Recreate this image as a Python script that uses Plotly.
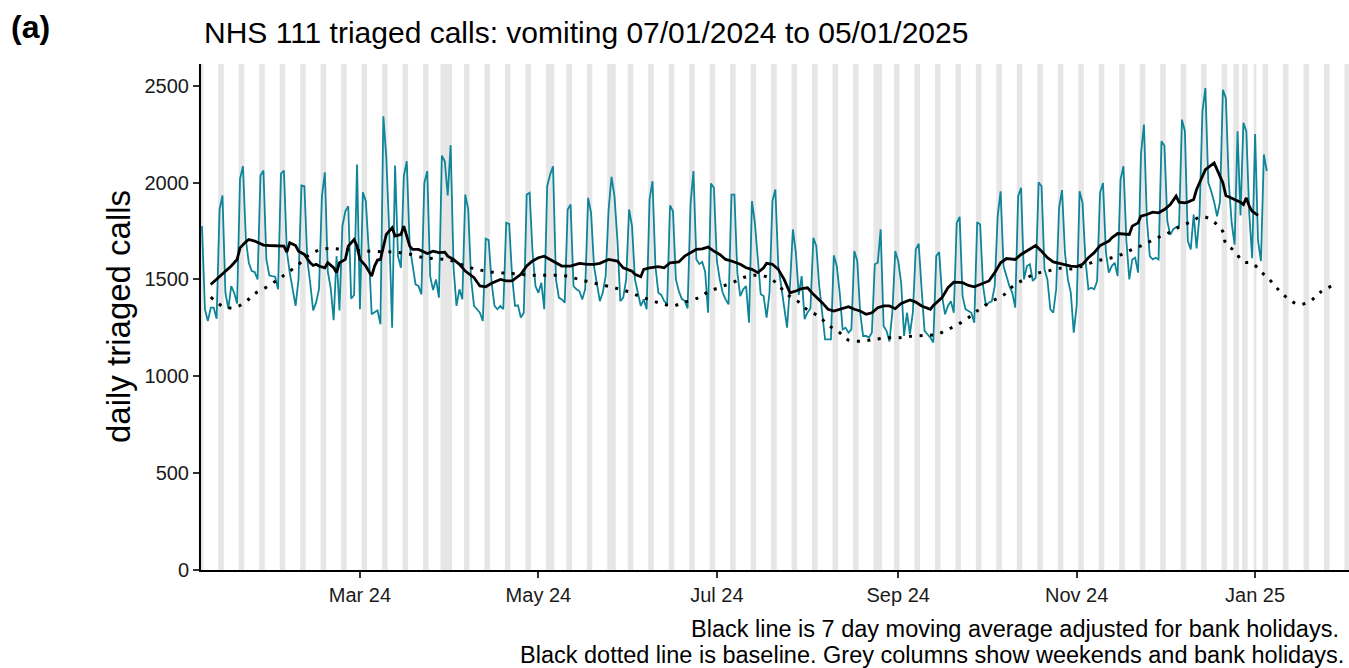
import pandas as pd
import plotly.graph_objects as go

# ---------------- data ----------------
start_date = "2024-01-07"

# daily triaged calls, 07/01/2024 (Sun) .. 05/01/2025 (Sun); rows = Mon..Sun weeks
calls = [
    1775,
    1346, 1285, 1354, 1354, 1297, 1861, 1933,
    1431, 1349, 1466, 1431, 1376, 2019, 2084,
    1706, 1586, 1543, 1538, 1500, 2036, 2062,
    1603, 1521, 1517, 1514, 1449, 2046, 2062,
    1646, 1535, 1449, 1363, 1500, 1985, 1981,
    1600, 1480, 1340, 1380, 1450, 1930, 2053,
    1540, 1457, 1290, 1620, 1340, 1775, 1852,
    1878, 1400, 1420, 2093, 1346, 1950, 1904,
    1650, 1320, 1330, 1340, 1268, 2342, 2130,
    1750, 1251, 2088, 1620, 1560, 2033, 2110,
    1672, 1560, 1474, 1466, 1423, 1998, 2059,
    1517, 1445, 1500, 1406, 2139, 2110, 1933,
    2193, 1560, 1363, 1449, 1397, 1938, 1861,
    1500, 1363, 1346, 1328, 1285, 1710, 1703,
    1483, 1363, 1346, 1363, 1346, 1792, 1787,
    1517, 1363, 1366, 1303, 1328, 1938, 1947,
    1638, 1466, 1431, 1483, 1346, 1981, 2041,
    2084, 1500, 1406, 1397, 1380, 1861, 1887,
    1466, 1449, 1440, 1397, 1450, 1921, 1844,
    1569, 1483, 1388, 1431, 1517, 1861, 2029,
    1930, 1706, 1388, 1406, 1500, 1861, 1775,
    1500, 1431, 1363, 1397, 1346, 1913, 2007,
    1569, 1431, 1420, 1388, 1371, 1882, 1852,
    1500, 1440, 1400, 1390, 1350, 1887, 2059,
    1603, 1580, 1590, 1540, 1328, 1995, 1973,
    1595, 1500, 1431, 1397, 1371, 1938, 1938,
    1535, 1414, 1449, 1466, 1277, 1904, 1792,
    1586, 1423, 1414, 1303, 1431, 1904, 1964,
    1569, 1466, 1363, 1251, 1466, 1758, 1640,
    1420, 1517, 1295, 1330, 1350, 1715, 1672,
    1466, 1328, 1191, 1191, 1191, 1624, 1569,
    1431, 1242, 1251, 1225, 1242, 1646, 1595,
    1328, 1208, 1208, 1200, 1225, 1578, 1586,
    1758, 1260, 1235, 1180, 1330, 1646, 1595,
    1483, 1208, 1328, 1217, 1328, 1655, 1684,
    1449, 1234, 1217, 1200, 1174, 1620, 1641,
    1414, 1320, 1363, 1388, 1328, 1792, 1823,
    1414, 1346, 1337, 1328, 1277, 1796, 1784,
    1466, 1363, 1380, 1388, 1466, 1827, 1955,
    1569, 1517, 1466, 1431, 1354, 1930, 1973,
    1500, 1569, 1578, 1492, 1509, 2002, 1981,
    1552, 1500, 1346, 1328, 1449, 1870, 1961,
    1638, 1500, 1431, 1225, 1363, 1955, 1895,
    1603, 1449, 1457, 1449, 1492, 1947, 1998,
    1638, 1535, 1569, 1586, 1517, 2015, 2084,
    1698, 1500, 1603, 1612, 1535, 2150, 2299,
    1809, 1620, 1603, 1612, 1603, 2213, 2190,
    1800, 1730, 1758, 1770, 1775, 2325, 2265,
    1698, 1655, 1835, 1660, 1830, 2368, 2488,
    2000, 1955, 1900, 1826, 1900, 2479, 2436,
    2000, 1790, 1680, 2265, 1830, 2308, 2265,
    1840, 1610, 2250, 1700, 1595, 2145, 2059,
]

# 7 day moving average (day offset from start, value)
ma_days = [3, 5, 8, 10, 12, 13, 15, 16, 18, 20, 21, 23, 25, 28, 29, 30, 32, 33, 35, 37,
           38, 39, 40, 42, 43, 45, 46, 47, 49, 50, 52, 53, 54, 56, 57, 58, 59, 60, 61, 63,
           65, 66, 68, 69, 71, 72, 74, 76, 77, 79, 81, 83, 84, 86, 88, 90, 93, 95, 97, 99,
           102, 104, 106, 109, 111, 113, 115, 117, 119, 121, 123, 126, 129, 132, 134, 136, 139, 142, 144, 147,
           148, 150, 151, 153, 156, 158, 160, 163, 165, 167, 169, 171, 173, 175, 177, 179, 181, 184, 186, 188,
           190, 192, 193, 195, 197, 199, 201, 203, 205, 207, 209, 212, 214, 216, 219, 221, 223, 225, 227, 229,
           231, 233, 235, 237, 239, 242, 244, 246, 249, 250, 253, 255, 257, 260, 262, 264, 266, 269, 271, 273,
           275, 278, 280, 282, 285, 287, 289, 291, 294, 297, 299, 301, 303, 305, 307, 310, 311, 313, 317, 318,
           320, 321, 323, 325, 327, 329, 331, 333, 334, 336, 337, 339, 340, 342, 343, 346, 347, 349, 350, 352,
           355, 356, 357, 358, 359, 361]
ma_vals = [1474, 1500, 1538, 1569, 1603, 1663, 1694, 1706, 1698, 1686, 1677, 1675, 1675, 1672, 1641, 1689, 1675, 1646, 1629, 1586,
           1572, 1578, 1569, 1560, 1586, 1560, 1535, 1586, 1603, 1672, 1706, 1672, 1603, 1569, 1543, 1517, 1569, 1600, 1603, 1732,
           1767, 1724, 1732, 1775, 1672, 1655, 1655, 1641, 1634, 1646, 1638, 1641, 1620, 1603, 1578, 1543, 1509, 1466, 1462, 1480,
           1500, 1492, 1492, 1526, 1569, 1595, 1612, 1620, 1603, 1586, 1569, 1569, 1583, 1578, 1578, 1583, 1603, 1595, 1560, 1543,
           1526, 1514, 1552, 1560, 1566, 1560, 1586, 1590, 1620, 1638, 1655, 1658, 1667, 1646, 1629, 1603, 1595, 1578, 1560, 1552,
           1535, 1560, 1583, 1578, 1552, 1500, 1431, 1440, 1452, 1457, 1423, 1380, 1346, 1337, 1349, 1359, 1346, 1337, 1320, 1328,
           1354, 1363, 1363, 1349, 1376, 1394, 1383, 1363, 1346, 1366, 1406, 1457, 1486, 1483, 1469, 1462, 1474, 1492, 1535, 1586,
           1608, 1603, 1629, 1646, 1675, 1646, 1612, 1590, 1578, 1569, 1566, 1578, 1612, 1638, 1675, 1698, 1715, 1737, 1732, 1775,
           1792, 1827, 1835, 1847, 1844, 1861, 1887, 1930, 1899, 1895, 1899, 1913, 1964, 2033, 2067, 2101, 2067, 1998, 1933, 1921,
           1899, 1887, 1921, 1878, 1852, 1830]

# baseline (day offset from start, value)
base_days = [3, 7, 11, 15, 18, 22, 26, 29, 33, 36, 40, 44, 48, 53, 57, 62, 66, 70, 75, 79,
             83, 86, 90, 94, 98, 103, 107, 112, 116, 120, 124, 128, 132, 137, 141, 145, 149, 153, 157, 161,
             165, 170, 173, 177, 182, 186, 190, 194, 197, 200, 204, 207, 211, 214, 218, 221, 226, 230, 234, 238,
             242, 247, 251, 255, 259, 263, 266, 270, 274, 277, 281, 285, 289, 293, 298, 302, 306, 310, 314, 318,
             322, 326, 330, 334, 338, 342, 346, 349, 350, 353, 356, 359, 362, 365, 368, 371, 375, 379, 382, 386]
base_vals = [1409, 1362, 1354, 1385, 1426, 1460, 1500, 1532, 1577, 1620, 1651, 1660, 1655, 1651, 1646, 1643, 1641, 1634, 1615, 1608,
             1603, 1594, 1569, 1552, 1540, 1533, 1529, 1522, 1521, 1521, 1519, 1504, 1488, 1471, 1457, 1440, 1416, 1395, 1376, 1364,
             1383, 1407, 1436, 1459, 1488, 1514, 1522, 1508, 1471, 1423, 1383, 1342, 1308, 1265, 1225, 1187, 1182, 1191, 1198, 1199,
             1206, 1211, 1216, 1242, 1273, 1314, 1349, 1388, 1419, 1462, 1500, 1529, 1543, 1557, 1555, 1575, 1596, 1608, 1627, 1655,
             1680, 1711, 1737, 1770, 1797, 1825, 1796, 1746, 1684, 1646, 1591, 1584, 1540, 1498, 1447, 1404, 1371, 1390, 1431, 1465]

bank_holidays = ["2024-03-29", "2024-04-01", "2024-05-06", "2024-05-27",
                 "2024-08-26", "2024-12-25", "2024-12-26", "2025-01-01"]

tick_dates = ["2024-03-01", "2024-05-01", "2024-07-01", "2024-09-01", "2024-11-01", "2025-01-01"]
tick_labels = ["Mar 24", "May 24", "Jul 24", "Sep 24", "Nov 24", "Jan 25"]
y_ticks = [0, 500, 1000, 1500, 2000, 2500]

title_text = "NHS 111 triaged calls: vomiting 07/01/2024 to 05/01/2025"
caption_1 = "Black line is 7 day moving average adjusted for bank holidays."
caption_2 = "Black dotted line is baseline. Grey columns show weekends and bank holidays."

# ---------------- build ----------------
t0 = pd.Timestamp(start_date)
dates = pd.date_range(t0, periods=len(calls), freq="D")
ma_dates = [t0 + pd.Timedelta(days=d) for d in ma_days]
base_dates = [t0 + pd.Timedelta(days=d) for d in base_days]

x_lo = t0 + pd.Timedelta(days=-0.34)
x_hi = t0 + pd.Timedelta(days=392.1)

# grey columns: weekends + bank holidays, merged into runs
bh = set(pd.to_datetime(bank_holidays))
all_days = pd.date_range(t0 - pd.Timedelta(days=2), x_hi + pd.Timedelta(days=2), freq="D")
grey = [d for d in all_days if d.weekday() >= 5 or d in bh]
runs = []
for d in grey:
    if runs and (d - runs[-1][1]).days == 1:
        runs[-1][1] = d
    else:
        runs.append([d, d])

half = pd.Timedelta(hours=0.45 * 24)
shapes = [dict(type="rect", xref="x", yref="paper", x0=a - half, x1=b + half, y0=0, y1=1,
               fillcolor="#E6E6E6", line=dict(width=0), layer="below") for a, b in runs]

FONT = "Liberation Sans, Arial, Helvetica, sans-serif"

fig = go.Figure()
fig.add_trace(go.Scatter(x=dates, y=calls, mode="lines",
                         line=dict(color="#0F8599", width=1.8), hoverinfo="skip"))
fig.add_trace(go.Scatter(x=base_dates, y=base_vals, mode="lines",
                         line=dict(color="black", width=3, dash="3px,7.5px", shape="spline"),
                         hoverinfo="skip"))
fig.add_trace(go.Scatter(x=ma_dates, y=ma_vals, mode="lines",
                         line=dict(color="black", width=2.8), hoverinfo="skip"))

W, H = 1349, 668
L, R, T, B = 201, 0, 64, 98
pw, ph = W - L - R, H - T - B


def px_x(px):
    return (px - L) / pw


def px_y(py):
    return (H - B - py) / ph


annotations = [
    dict(text="<b>(a)</b>", x=px_x(9), y=px_y(27), xref="paper", yref="paper",
         xanchor="left", yanchor="middle", showarrow=False, font=dict(size=32, color="black", family=FONT)),
    dict(text=title_text, x=px_x(202), y=px_y(33), xref="paper", yref="paper",
         xanchor="left", yanchor="middle", showarrow=False, font=dict(size=30, color="black", family=FONT)),
    dict(text="daily triaged calls", x=px_x(118), y=px_y(317), xref="paper", yref="paper",
         xanchor="center", yanchor="middle", textangle=-90, showarrow=False,
         font=dict(size=33, color="black", family=FONT)),
    dict(text=caption_1, x=px_x(1341), y=px_y(629), xref="paper", yref="paper",
         xanchor="right", yanchor="middle", showarrow=False, font=dict(size=23.5, color="black", family=FONT)),
    dict(text=caption_2, x=px_x(1346), y=px_y(655), xref="paper", yref="paper",
         xanchor="right", yanchor="middle", showarrow=False, font=dict(size=23.5, color="black", family=FONT)),
]

fig.update_layout(
    width=W, height=H, autosize=False,
    margin=dict(l=L, r=R, t=T, b=B, pad=0),
    paper_bgcolor="white", plot_bgcolor="white",
    showlegend=False, hovermode=False,
    shapes=shapes, annotations=annotations,
    font=dict(family=FONT, color="black"),
    xaxis=dict(type="date", range=[x_lo, x_hi], tickvals=pd.to_datetime(tick_dates), ticktext=tick_labels,
               showline=True, linecolor="black", linewidth=2, ticks="outside", ticklen=6, tickwidth=2,
               tickcolor="#333333", showgrid=False, zeroline=False,
               tickfont=dict(size=20, color="#1a1a1a", family=FONT)),
    yaxis=dict(range=[0, 2612], tickvals=y_ticks, showline=True, linecolor="black", linewidth=2,
               ticks="outside", ticklen=6, tickwidth=2, tickcolor="#333333", showgrid=False,
               zeroline=False, tickfont=dict(size=20, color="#1a1a1a", family=FONT)),
)

fig.write_html("out.html", config={"displayModeBar": False},
               post_script="document.body.style.margin='0';document.body.style.overflow='hidden';")
